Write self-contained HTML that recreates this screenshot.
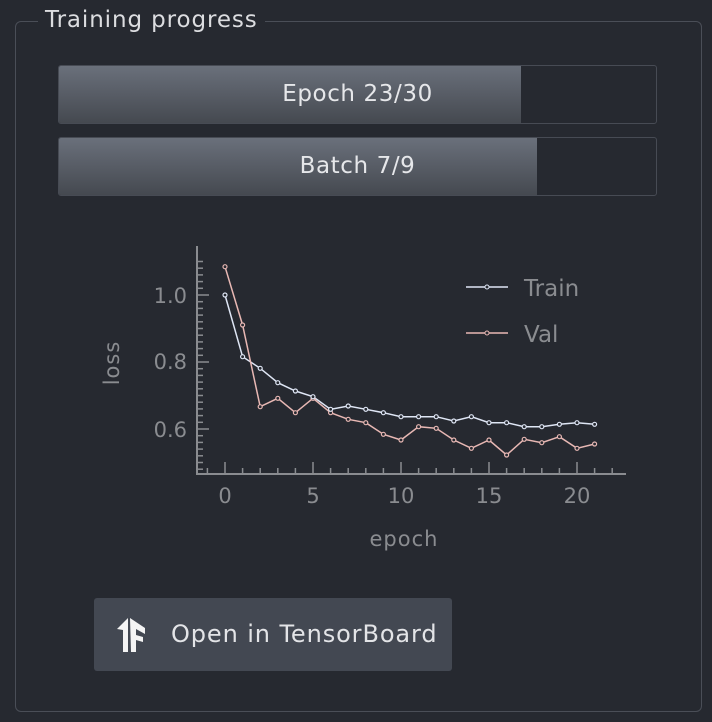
<!DOCTYPE html>
<html><head><meta charset="utf-8"><style>
html,body{margin:0;padding:0;background:#262930;width:712px;height:722px;overflow:hidden;font-family:"DejaVu Sans","Liberation Sans",sans-serif;}
.box{position:absolute;left:15px;top:21px;width:685px;height:689px;border:1px solid #4a4e57;border-radius:6px;}
.title{position:absolute;left:38px;top:7px;padding:0 7px;background:#262930;color:#dcdde0;font-size:23px;letter-spacing:0.9px;}
.bar{position:absolute;left:58px;width:597px;height:57px;border:1px solid #474b54;border-radius:3px;background:#262930;overflow:hidden;}
.fill{position:absolute;left:0;top:0;bottom:0;background:linear-gradient(#6a707b,#454950);}
.lbl{position:absolute;left:0;right:0;top:0;line-height:57px;text-align:center;color:#e6e7ea;font-size:23px;letter-spacing:0.6px;}
.btn{position:absolute;left:94px;top:598px;width:358px;height:73px;background:#434852;border-radius:3px;color:#e3e4e7;font-size:24px;letter-spacing:0.9px;}
</style></head><body>
<div class="box"></div>
<div class="title">Training progress</div>
<div class="bar" style="top:65px"><div class="fill" style="width:462px"></div><div class="lbl">Epoch 23/30</div></div>
<div class="bar" style="top:137px"><div class="fill" style="width:478px"></div><div class="lbl">Batch 7/9</div></div>
<svg width="712" height="722" style="position:absolute;left:0;top:0" font-family="DejaVu Sans, Liberation Sans, sans-serif">
<g stroke="#8a8c90" stroke-width="2" fill="none">
<line x1="197" y1="246" x2="197" y2="475"/>
<line x1="196" y1="474" x2="626" y2="474"/>
</g>
<g stroke="#8a8c90" stroke-width="1.5" id="ticks"></g>
<g fill="#8a8c90" font-size="21" text-anchor="end">
<text x="187" y="303">1.0</text><text x="187" y="369">0.8</text><text x="187" y="437">0.6</text>
</g>
<g fill="#8a8c90" font-size="21" text-anchor="middle">
<text x="225" y="503">0</text><text x="313" y="503">5</text><text x="401" y="503">10</text><text x="489" y="503">15</text><text x="577" y="503">20</text>
<text x="404" y="546" letter-spacing="1">epoch</text>
<text transform="translate(119,363) rotate(-90)" letter-spacing="1">loss</text>
</g>
<polyline id="tr" fill="none" stroke="#dfe6f5" stroke-width="1.5"/>
<polyline id="va" fill="none" stroke="#e8b8b4" stroke-width="1.5"/>
<g id="mk" fill="#262930" stroke-width="1.2"></g>
<line x1="466" y1="287" x2="508" y2="287" stroke="#dfe6f5" stroke-width="1.5"/>
<circle cx="487" cy="287" r="2" fill="#262930" stroke="#dfe6f5"/>
<line x1="466" y1="333" x2="508" y2="333" stroke="#e8b8b4" stroke-width="1.5"/>
<circle cx="487" cy="333" r="2" fill="#262930" stroke="#e8b8b4"/>
<g fill="#8a8c90" font-size="23"><text x="524" y="296">Train</text><text x="524" y="342">Val</text></g>
</svg>
<div class="btn">
<svg width="40" height="40" style="position:absolute;left:20px;top:17px" viewBox="0 0 40 40"><path d="M3 14 L14 3 L14 37 L9 37 L9 15 Z M16 3 L31 13 L31 19 L22 14 L22 20 L29 22 L29 27 L22 25 L22 37 L17 37 Z" fill="#f4f4f4"/></svg>
<div style="position:absolute;left:77px;top:0;line-height:73px">Open in TensorBoard</div>
</div>
<script>
var tr=[295,356.7,368.3,382.7,391,396.7,409.3,406,409.3,412.7,416.7,416.7,416.7,421,416.7,422.7,422.7,426.7,426.7,424.3,422.7,424.3];
var va=[266.7,325,406.7,398.3,412.7,398.3,412.7,419.3,422.7,434.3,440,426.7,428.3,440,448.3,440,455,439.3,442.7,436.7,448.3,444];
function X(i){return 225+i*17.6;}
document.getElementById('tr').setAttribute('points',tr.map((y,i)=>X(i)+','+y).join(' '));
document.getElementById('va').setAttribute('points',va.map((y,i)=>X(i)+','+y).join(' '));
var ns='http://www.w3.org/2000/svg',mk=document.getElementById('mk'),tk=document.getElementById('ticks');
[[va,'#e8b8b4'],[tr,'#dfe6f5']].forEach(function(s){s[0].forEach(function(y,i){var c=document.createElementNS(ns,'circle');c.setAttribute('cx',X(i));c.setAttribute('cy',y);c.setAttribute('r',2);c.setAttribute('stroke',s[1]);mk.appendChild(c);});});
for(var i=-1;i<=22;i++){var l=document.createElementNS(ns,'line');var x=X(i);l.setAttribute('x1',x);l.setAttribute('x2',x);l.setAttribute('y1',i%5==0?462:468);l.setAttribute('y2',474);tk.appendChild(l);}
for(var k=0;k<=33;k++){var y=295-((1.1-k*0.02)-1.0)*335;var v=Math.round((1.1-k*0.02)*100);if(y>474||y<246)continue;var l=document.createElementNS(ns,'line');l.setAttribute('x1',197);l.setAttribute('x2',v%20==0?209:203);l.setAttribute('y1',y);l.setAttribute('y2',y);tk.appendChild(l);}
</script>
</body></html>
